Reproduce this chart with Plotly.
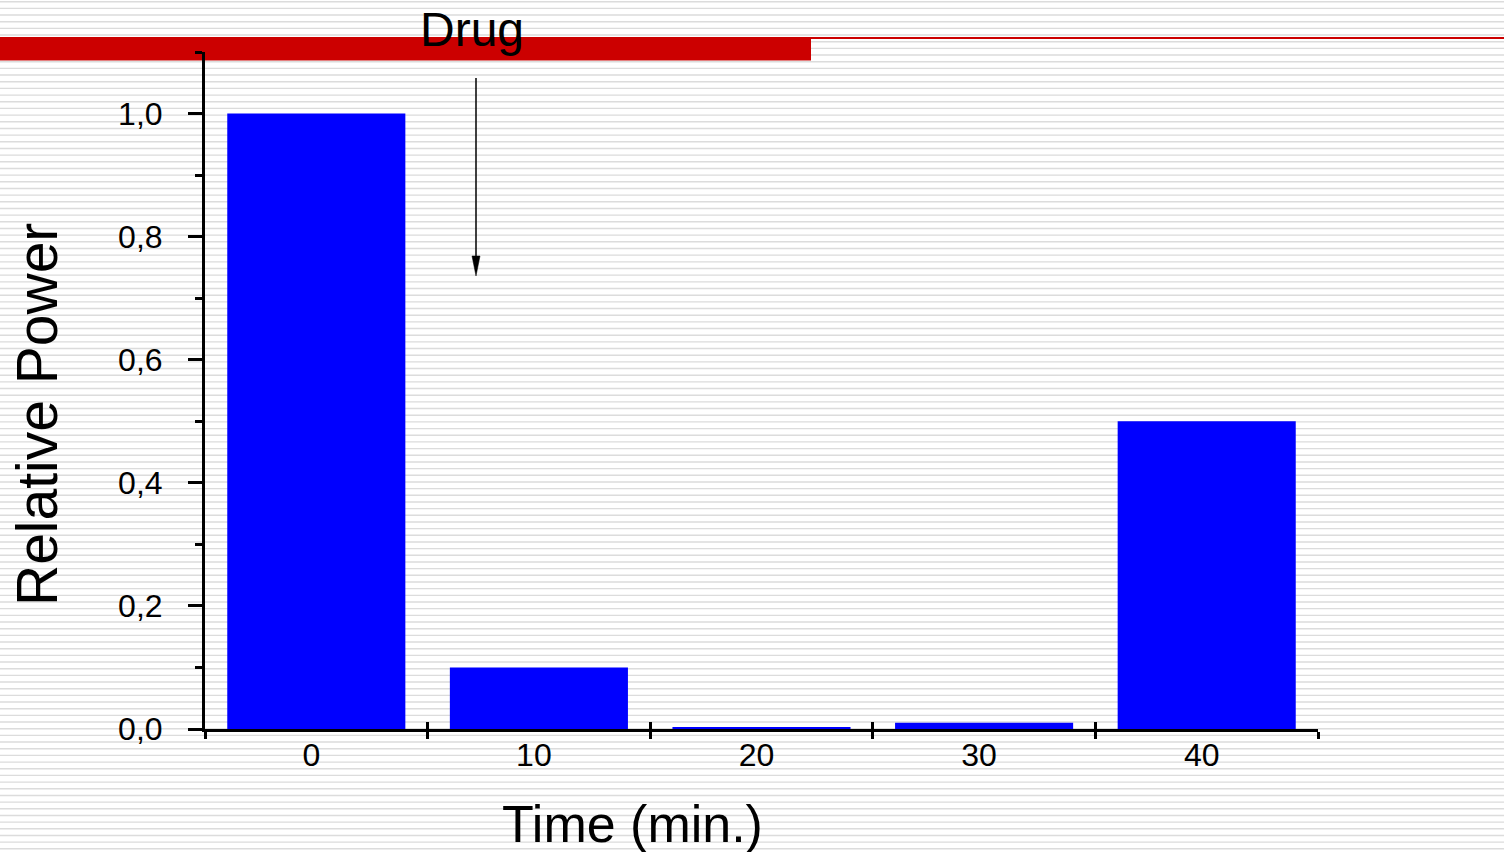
import plotly.graph_objects as go

# ---- data ----
times = [0, 10, 20, 30, 40]
tick_labels = ["0", "10", "20", "30", "40"]
relative_power = [1.0, 0.1, 0.003, 0.01, 0.5]
y_tick_vals = [0.0, 0.2, 0.4, 0.6, 0.8, 1.0]
y_tick_text = ["0,0", "0,2", "0,4", "0,6", "0,8", "1,0"]
y_minor_vals = [0.1, 0.3, 0.5, 0.7, 0.9, 1.1]
x_boundaries = [-5, 5, 15, 25, 35, 45]

# ---- layout geometry (pixels) ----
W, H = 1504, 852
L, R, T, B = 205, 1318, 52, 729
FONT = "Liberation Sans, Arial, sans-serif"


def px_x(p):
    return (p - L) / (R - L)


def px_y(p):
    return (B - p) / (B - T)


fig = go.Figure()
fig.add_trace(go.Bar(
    x=times, y=relative_power, width=8,
    marker=dict(color="#0000FF", line=dict(width=0)),
    xaxis="x", yaxis="y", showlegend=False, hoverinfo="x+y",
))

# background stripes as a single path in paper coordinates
period = 6.67
y0 = 1.7
segs = []
yy = y0
x_left, x_right = px_x(0), px_x(W)
while yy < H:
    py = px_y(yy)
    segs.append(f"M{x_left},{py} L{x_right},{py}")
    yy += period
ax_x = 476
shapes = [
    dict(type="path", xref="paper", yref="paper", path=" ".join(segs),
         line=dict(color="#dcdcdc", width=1.4), layer="below"),
    # red banner
    dict(type="rect", xref="paper", yref="paper",
         x0=px_x(0), x1=px_x(811), y0=px_y(60.5), y1=px_y(37),
         fillcolor="#CC0000", line=dict(width=0), layer="below"),
    dict(type="rect", xref="paper", yref="paper",
         x0=px_x(811), x1=px_x(W), y0=px_y(39), y1=px_y(37),
         fillcolor="#CC0000", line=dict(width=0), layer="below"),
    # drug arrow: shaft + narrow head
    dict(type="line", xref="paper", yref="paper",
         x0=px_x(ax_x), x1=px_x(ax_x), y0=px_y(78), y1=px_y(262),
         line=dict(color="black", width=1.5), layer="above"),
    dict(type="path", xref="paper", yref="paper",
         path=(f"M{px_x(ax_x - 4)},{px_y(256)} L{px_x(ax_x + 4)},{px_y(256)} "
               f"L{px_x(ax_x)},{px_y(276)} Z"),
         fillcolor="black", line=dict(color="black", width=0.5), layer="above"),
]

annotations = [
    dict(text="Drug", xref="paper", yref="paper", x=px_x(472), y=px_y(30),
         showarrow=False, xanchor="center", yanchor="middle",
         font=dict(family=FONT, size=48, color="black")),
    dict(text="Time (min.)", xref="paper", yref="paper", x=px_x(632), y=px_y(824),
         showarrow=False, xanchor="center", yanchor="middle",
         font=dict(family=FONT, size=52, color="black")),
    dict(text="Relative Power", xref="paper", yref="paper", x=px_x(37), y=px_y(415),
         showarrow=False, xanchor="center", yanchor="middle", textangle=-90,
         font=dict(family=FONT, size=57, color="black")),
]

fig.update_layout(
    width=W, height=H,
    margin=dict(l=L, r=W - R, t=T, b=H - B, pad=0),
    paper_bgcolor="white", plot_bgcolor="rgba(0,0,0,0)",
    shapes=shapes, annotations=annotations,
    font=dict(family=FONT, color="black"),
    xaxis=dict(
        range=[-5, 45], showgrid=False, zeroline=False,
        showline=True, linecolor="black", linewidth=3,
        tickmode="array", tickvals=times, ticktext=tick_labels,
        ticks="", tickfont=dict(size=32, family=FONT, color="black"),
        ticklabelstandoff=-4, ticklabelshift=-5,
        minor=dict(tickvals=x_boundaries, ticks="outside", ticklen=7,
                   tickwidth=3, tickcolor="black", showgrid=False),
    ),
    xaxis2=dict(
        range=[-5, 45], overlaying="x", anchor="y", showgrid=False,
        zeroline=False, showline=False, tickmode="array",
        tickvals=x_boundaries, ticks="inside", ticklen=7, tickwidth=3,
        tickcolor="black", showticklabels=False,
    ),
    yaxis=dict(
        range=[0, 1.1], showgrid=False, zeroline=False,
        showline=True, linecolor="black", linewidth=3,
        tickmode="array", tickvals=y_tick_vals, ticktext=y_tick_text,
        ticks="outside", ticklen=14, tickwidth=3, tickcolor="black",
        tickfont=dict(size=32, family=FONT, color="black"),
        ticklabelstandoff=19,
        minor=dict(tickvals=y_minor_vals, ticks="outside", ticklen=7,
                   tickwidth=3, tickcolor="black", showgrid=False),
    ),
)

# dummy trace so xaxis2 is drawn
fig.add_trace(go.Scatter(x=[None], y=[None], xaxis="x2", yaxis="y",
                         showlegend=False, hoverinfo="skip"))

fig.write_html("out.html", config={"displayModeBar": False},
               post_script="document.body.style.margin='0';document.body.style.overflow='hidden';")
